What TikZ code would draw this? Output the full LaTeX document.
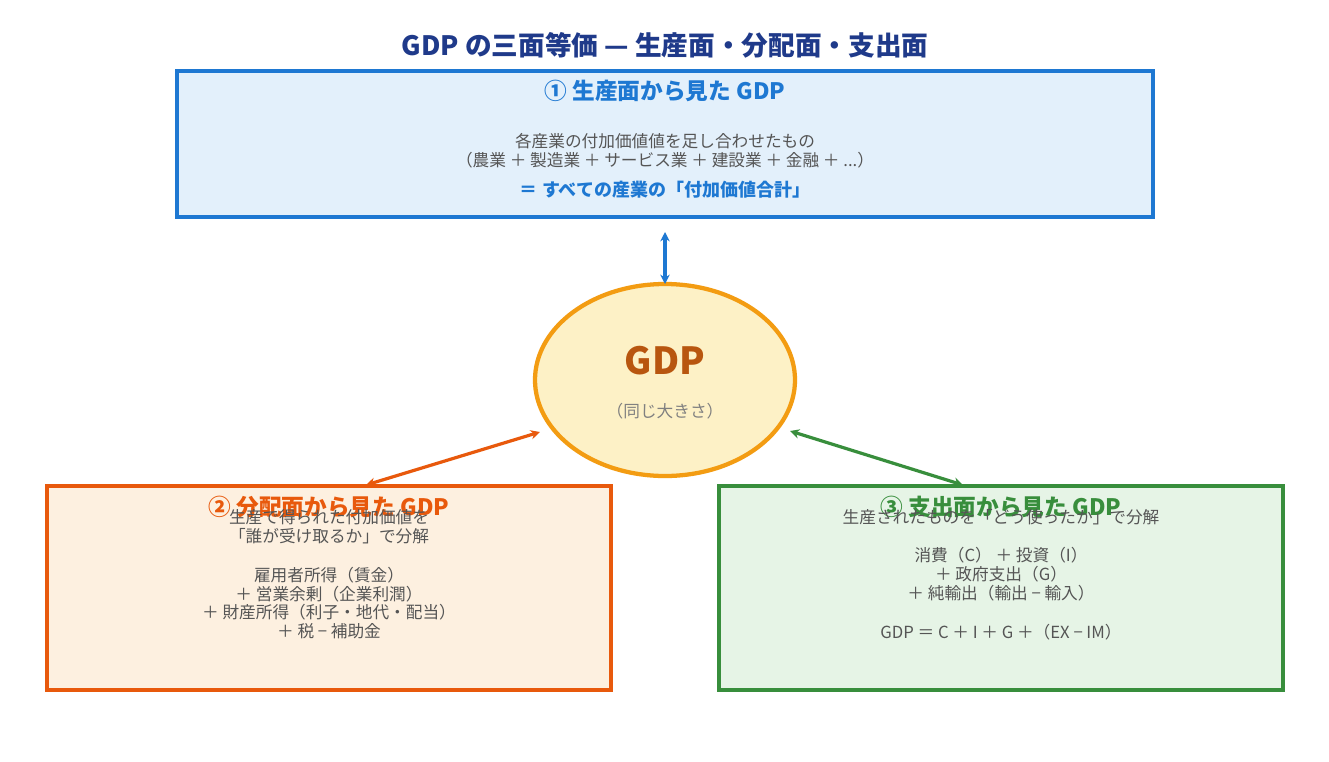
\documentclass[tikz,border=0pt]{standalone}
\usepackage{fontspec}
\setmainfont{Noto Sans CJK JP}
\usetikzlibrary{arrows.meta}
\definecolor{navy}{HTML}{1F3A8A}
\definecolor{bblue}{HTML}{1E78D2}
\definecolor{bfill}{HTML}{E3F0FB}
\definecolor{oline}{HTML}{E8590C}
\definecolor{ofill}{HTML}{FDF0E0}
\definecolor{gline}{HTML}{388E3C}
\definecolor{gfill}{HTML}{E6F4E6}
\definecolor{yline}{HTML}{F39C12}
\definecolor{yfill}{HTML}{FDF1C6}
\definecolor{gdptxt}{HTML}{B8560F}
\definecolor{body}{HTML}{555555}
\tikzset{
 box/.style={line width=2.3pt},
 ttl/.style={font=\fontsize{17}{20}\selectfont\bfseries},
 txt/.style={font=\fontsize{12.5}{14}\selectfont,text=body,align=center},
 arr/.style={line width=2.4pt,{Stealth[length=7pt,width=7pt]}-{Stealth[length=7pt,width=7pt]}}
}
\begin{document}
\begin{tikzpicture}[x=0.75pt,y=-0.75pt]
\useasboundingbox (0,0) rectangle (1329,761);
\fill[white] (0,0) rectangle (1329,761);
\node[font=\fontsize{20}{22}\selectfont\bfseries,text=navy] (title) at (665,45) {GDP の三面等価 — 生産面・分配面・支出面};
% box 1
\draw[box,draw=bblue,fill=bfill] (177,71) rectangle (1153,217);
\node[ttl,text=bblue] (t1) at (665,91) {① 生産面から見た GDP};
\node[txt] (d1) at (665,151) {各産業の付加価値値を足し合わせたもの\\（農業 ＋ 製造業 ＋ サービス業 ＋ 建設業 ＋ 金融 ＋ ...）};
\node[font=\fontsize{13.5}{15}\selectfont\bfseries,text=bblue] (e1) at (665,190) {＝ すべての産業の「付加価値合計」};
\coordinate (a1) at (665,232);
% ellipse
\draw[line width=3.2pt,draw=yline,fill=yfill] (665,380) ellipse [x radius=130, y radius=96];
\node[font=\fontsize{28}{30}\selectfont\bfseries,text=gdptxt] (g) at (665,361) {GDP};
\node[font=\fontsize{12.5}{14}\selectfont,text=gray] (gs) at (665,411) {（同じ大きさ）};
\coordinate (etop) at (665,284);
\coordinate (eleft) at (540,432);
\coordinate (eright) at (790,431);
% box 2
\draw[box,draw=oline,fill=ofill] (47,486) rectangle (611,690);
\node[ttl,text=oline] (t2) at (329,507) {② 分配面から見た GDP};
\node[txt] (d2) at (329,527) {生産で得られた付加価値を\\「誰が受け取るか」で分解};
\node[txt] (f2) at (329,603) {雇用者所得（賃金）\\＋ 営業余剰（企業利潤）\\＋ 財産所得（利子・地代・配当）\\＋ 税 − 補助金};
\coordinate (b2) at (366,485);
% box 3
\draw[box,draw=gline,fill=gfill] (719,486) rectangle (1283,690);
\node[ttl,text=gline] (t3) at (1001,507) {③ 支出面から見た GDP};
\node[txt] (d3) at (1001,517) {生産されたものを「どう使ったか」で分解};
\node[txt] (f3) at (1001,574) {消費（C） ＋ 投資（I）\\＋ 政府支出（G）\\＋ 純輸出（輸出 − 輸入）};
\node[txt] (h3) at (1001,632) {GDP ＝ C ＋ I ＋ G ＋（EX − IM）};
\coordinate (b3) at (963,485);
% arrows
\draw[arr,bblue] (a1) -- (etop);
\draw[arr,oline] (eleft) -- (b2);
\draw[arr,gline] (eright) -- (b3);
\end{tikzpicture}
\end{document}
